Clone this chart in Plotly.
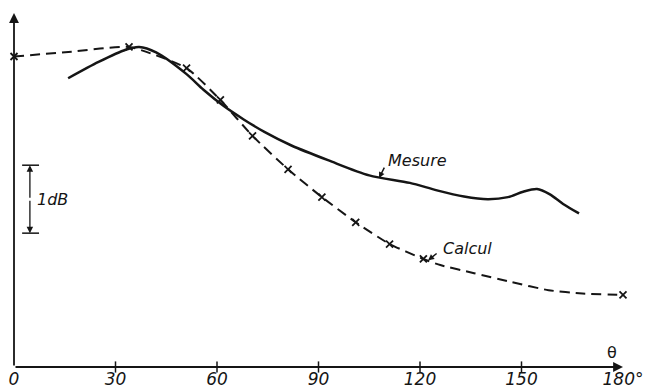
import plotly.graph_objects as go

# ---- data (angle in degrees, level in dB above the bottom axis) ----
mes_deg = [16, 25, 33, 37, 42, 51, 56, 62, 68, 74, 82, 93, 105, 117, 125, 133, 140, 146, 150.5, 154.6, 158.4, 162.3, 167]
mes_db = [4.25, 4.49, 4.67, 4.71, 4.63, 4.31, 4.08, 3.84, 3.64, 3.46, 3.26, 3.04, 2.82, 2.71, 2.60, 2.51, 2.47, 2.50, 2.58, 2.62, 2.54, 2.40, 2.26]

calc_line_deg = [0, 17, 34, 51, 61, 70.5, 81, 91, 101, 111, 121, 126, 136, 147, 158, 168, 180]
calc_line_db = [4.57, 4.64, 4.71, 4.40, 3.93, 3.40, 2.91, 2.50, 2.13, 1.81, 1.59, 1.50, 1.38, 1.25, 1.13, 1.08, 1.06]

calc_pts_deg = [0, 34, 51, 61, 70.5, 81, 91, 101, 111, 121, 180]
calc_pts_db = [4.57, 4.71, 4.40, 3.93, 3.40, 2.91, 2.50, 2.13, 1.81, 1.59, 1.06]

tick_vals = [0, 30, 60, 90, 120, 150, 180]
tick_text = ["0", "30", "60", "90", "120", "150", "180°"]
minor_ticks = [30, 60, 90, 120, 150]

scale_bar_db = [1.97, 2.97]   # 1 dB scale bar
scale_bar_deg = 4.7
y_top = 5.21

INK = "#151515"
FONT = "DejaVu Sans"

fig = go.Figure()

fig.add_trace(go.Scatter(
    x=calc_line_deg, y=calc_line_db, mode="lines",
    line=dict(color=INK, width=2, dash="10px,6px", shape="spline", smoothing=0.5),
    cliponaxis=False, hoverinfo="skip", showlegend=False))
fig.add_trace(go.Scatter(
    x=calc_pts_deg, y=calc_pts_db, mode="markers",
    marker=dict(symbol="x-thin", size=7, line=dict(color=INK, width=1.8)),
    cliponaxis=False, showlegend=False))
fig.add_trace(go.Scatter(
    x=mes_deg, y=mes_db, mode="lines",
    line=dict(color=INK, width=2.5, shape="spline", smoothing=0.8),
    cliponaxis=False, showlegend=False))
fig.add_trace(go.Scatter(
    x=minor_ticks, y=[0] * len(minor_ticks), mode="markers",
    marker=dict(symbol="line-ns", size=8, line=dict(color=INK, width=1.5)),
    cliponaxis=False, showlegend=False, hoverinfo="skip"))

ann = []
# axes as arrows
ann.append(dict(x=180, y=0, ax=0, ay=0, xref="x", yref="y", axref="x", ayref="y",
                text="", showarrow=True, arrowhead=2, arrowsize=1.1, arrowwidth=1.8, arrowcolor=INK))
ann.append(dict(x=0, y=y_top, ax=0, ay=0, xref="x", yref="y", axref="x", ayref="y",
                text="", showarrow=True, arrowhead=2, arrowsize=1.1, arrowwidth=1.8, arrowcolor=INK))
# 1 dB scale bar (two arrows from the middle)
mid = (scale_bar_db[0] + scale_bar_db[1]) / 2
for end in scale_bar_db:
    ann.append(dict(x=scale_bar_deg, y=end, ax=scale_bar_deg, ay=mid, xref="x", yref="y",
                    axref="x", ayref="y", text="", showarrow=True, arrowhead=2,
                    arrowsize=1.0, arrowwidth=1.3, arrowcolor=INK))
ann.append(dict(x=11.3, y=mid, xref="x", yref="y", text="1dB", showarrow=False,
                font=dict(family=FONT, size=16, color=INK, style="italic")))
# labels
ann.append(dict(x=119.2, y=3.04, xref="x", yref="y", text="Mesure", showarrow=False,
                font=dict(family=FONT, size=16, color=INK, style="italic")))
ann.append(dict(x=107.9, y=2.78, xref="x", yref="y", text="", showarrow=True, ax=6, ay=-12,
                arrowhead=2, arrowsize=0.8, arrowwidth=1.5, arrowcolor=INK))
ann.append(dict(x=134.0, y=1.75, xref="x", yref="y", text="Calcul", showarrow=False,
                font=dict(family=FONT, size=16, color=INK, style="italic")))
ann.append(dict(x=122.4, y=1.57, xref="x", yref="y", text="", showarrow=True, ax=10, ay=-8,
                arrowhead=2, arrowsize=0.8, arrowwidth=1.5, arrowcolor=INK))
ann.append(dict(x=176.8, y=0.21, xref="x", yref="y", text="θ", showarrow=False,
                font=dict(family=FONT, size=16, color=INK)))

shapes = []
for end in scale_bar_db:
    shapes.append(dict(type="line", xref="x", yref="y", x0=2.4, x1=7.4, y0=end, y1=end,
                       line=dict(color=INK, width=1.5)))

fig.update_layout(
    width=650, height=389,
    margin=dict(l=14, r=27, t=13, b=22),
    paper_bgcolor="white", plot_bgcolor="white",
    annotations=ann, shapes=shapes,
    xaxis=dict(range=[0, 180], showgrid=False, zeroline=False, showline=False,
               tickvals=tick_vals, ticktext=tick_text, ticks="",
               tickfont=dict(family=FONT, size=17, color=INK, style="italic"),
               ticklabelstandoff=0,
               automargin=False, fixedrange=True),
    yaxis=dict(range=[0, y_top], showgrid=False, zeroline=False, showline=False,
               showticklabels=False, ticks="", automargin=False, fixedrange=True),
)

fig.write_html("out.html", config={"displayModeBar": False},
               post_script="document.body.style.margin='0';document.body.style.overflow='hidden';")
